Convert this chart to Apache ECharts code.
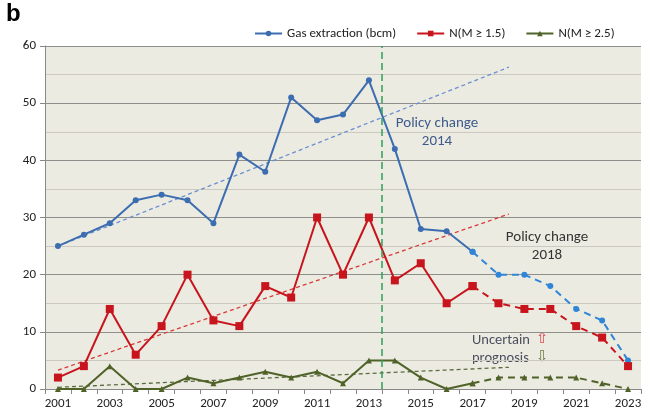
<!DOCTYPE html>
<html>
<head>
<meta charset="utf-8">
<script src="https://cdn.jsdelivr.net/npm/echarts@6/dist/echarts.min.js"></script>
<style>
  html, body { margin: 0; padding: 0; background: #fff; }
  #main { width: 648px; height: 415px; }
</style>
</head>
<body>
<div id="main"></div>
<script>
// 年份
const years = ['2001','2002','2003','2004','2005','2006','2007','2008','2009','2010','2011','2012',
  '2013','2014','2015','2016','2017','2018','2019','2020','2021','2022','2023']
// 实测 (到2017) 和预测 (2017以后)
const gasObs = [25, 27, 29, 33, 34, 33, 29, 41, 38, 51, 47, 48, 54, 42, 28, 27.6, 24, null, null, null, null, null, null]
const gasPred = [null, null, null, null, null, null, null, null, null, null, null, null, null, null, null, null, 24, 20, 20, 18, 14, 12, 5]
const n15Obs = [2, 4, 14, 6, 11, 20, 12, 11, 18, 16, 30, 20, 30, 19, 22, 15, 18, null, null, null, null, null, null]
const n15Pred = [null, null, null, null, null, null, null, null, null, null, null, null, null, null, null, null, 18, 15, 14, 14, 11, 9, 4]
const n25Obs = [0, 0, 4, 0, 0, 2, 1, 2, 3, 2, 3, 1, 5, 5, 2, 0, 1, null, null, null, null, null, null]
const n25Pred = [null, null, null, null, null, null, null, null, null, null, null, null, null, null, null, null, 1, 2, 2, 2, 2, 1, 0]
// 趋势线 [年, 值]
const gasTrend = [[2001, 25], [2018.4, 56.3]]
const n15Trend = [[2001, 3.3], [2018.4, 30.6]]
const n25Trend = [[2001, 0.3], [2018.4, 3.8]]
const policyYear = 2013.5

const blue = '#3c6db0'
const blueDash = '#2f86d8'
const red = '#c8141c'
const green = '#4f6228'

const myChart = echarts.init(document.querySelector('#main'))

const font = "Calibri, Carlito, Lato, 'Open Sans', sans-serif"

const option = {
  animation: false,
  textStyle: { fontFamily: font },
  grid: {
    left: 45,
    right: 7,
    top: 46,
    bottom: 26,
    show: true,
    backgroundColor: '#ecebe1',
    borderWidth: 0
  },
  legend: {
    top: 22,
    left: 249,
    itemWidth: 27,
    itemHeight: 7,
    itemGap: 20,
    textStyle: { fontSize: 13, color: '#222', fontFamily: font },
    data: ['Gas extraction (bcm)', 'N(M ≥ 1.5)', 'N(M ≥ 2.5)']
  },
  xAxis: [
    {
      type: 'category',
      data: years,
      boundaryGap: true,
      axisLine: { lineStyle: { color: '#888', width: 1 } },
      axisTick: { show: true, interval: 0, length: 5, lineStyle: { color: '#888' } },
      axisLabel: { interval: 1, color: '#222', fontSize: 13, margin: 8 },
      splitLine: { show: false }
    },
    {
      type: 'value',
      min: 2000.5,
      max: 2023.5,
      show: false
    }
  ],
  yAxis: {
    type: 'value',
    min: 0,
    max: 60,
    interval: 10,
    axisLine: { show: true, lineStyle: { color: '#888' } },
    axisTick: { show: true, length: 5, lineStyle: { color: '#888' } },
    axisLabel: { color: '#222', fontSize: 13, margin: 9 },
    splitLine: { lineStyle: { color: '#8e8e8a', width: 1.2 } },
    minorTick: { show: false, splitNumber: 2 },
    minorSplitLine: { show: true, lineStyle: { color: '#cbc9c0', width: 1.2 } }
  },
  graphic: [
    { type: 'text', left: 6, top: 2, style: { text: 'b', font: 'bold 24px Arial, sans-serif', fill: '#000' } },
    { type: 'text', x: 437, y: 132, style: { text: 'Policy change\n2014', align: 'center', verticalAlign: 'middle',
      font: '15px ' + font, fill: '#3e5a8c', lineHeight: 18 } },
    { type: 'text', x: 547, y: 246, style: { text: 'Policy change\n2018', align: 'center', verticalAlign: 'middle',
      font: '15px ' + font, fill: '#333', lineHeight: 18 } },
    { type: 'text', x: 472, y: 340, style: { text: 'Uncertain', verticalAlign: 'middle', font: '14.5px ' + font, fill: '#4a4e5e' } },
    { type: 'text', x: 536, y: 339, style: { text: '⇧', verticalAlign: 'middle', font: '15px DejaVu Sans', fill: '#e0474c' } },
    { type: 'text', x: 472, y: 358, style: { text: 'prognosis', verticalAlign: 'middle', font: '14.5px ' + font, fill: '#4a4e5e' } },
    { type: 'text', x: 536, y: 357, style: { text: '⇩', verticalAlign: 'middle', font: '15px DejaVu Sans', fill: '#6b7a40' } }
  ],
  series: [
    {
      name: 'Gas trend',
      type: 'line',
      xAxisIndex: 1,
      data: gasTrend,
      symbol: 'none',
      lineStyle: { color: '#6a8fd2', width: 1.3, type: [4, 3] },
      silent: true,
      markLine: {
        silent: true,
        symbol: 'none',
        label: { show: false },
        lineStyle: { color: '#2ea05a', width: 1.5, type: [7, 4] },
        data: [{ xAxis: policyYear }]
      }
    },
    {
      name: 'N15 trend',
      type: 'line',
      xAxisIndex: 1,
      data: n15Trend,
      symbol: 'none',
      lineStyle: { color: '#d83a3a', width: 1.3, type: [4, 3] },
      silent: true
    },
    {
      name: 'N25 trend',
      type: 'line',
      xAxisIndex: 1,
      data: n25Trend,
      symbol: 'none',
      lineStyle: { color: '#5a6b40', width: 1.3, type: [4, 3] },
      silent: true
    },
    {
      name: 'Gas extraction (bcm)',
      type: 'line',
      data: gasObs,
      symbol: 'circle',
      symbolSize: 6,
      itemStyle: { color: blue },
      lineStyle: { color: blue, width: 2 }
    },
    {
      name: 'Gas extraction (bcm)',
      type: 'line',
      data: gasPred,
      symbol: 'circle',
      symbolSize: 6,
      itemStyle: { color: blueDash },
      lineStyle: { color: blueDash, width: 2, type: [7, 5] }
    },
    {
      name: 'N(M ≥ 1.5)',
      type: 'line',
      data: n15Obs,
      symbol: 'rect',
      symbolSize: 8,
      itemStyle: { color: red },
      lineStyle: { color: red, width: 2 }
    },
    {
      name: 'N(M ≥ 1.5)',
      type: 'line',
      data: n15Pred,
      symbol: 'rect',
      symbolSize: 8,
      itemStyle: { color: red },
      lineStyle: { color: red, width: 2, type: [7, 5] }
    },
    {
      name: 'N(M ≥ 2.5)',
      type: 'line',
      data: n25Obs,
      symbol: 'triangle',
      symbolSize: 6,
      itemStyle: { color: green },
      lineStyle: { color: green, width: 2 }
    },
    {
      name: 'N(M ≥ 2.5)',
      type: 'line',
      data: n25Pred,
      symbol: 'triangle',
      symbolSize: 6,
      itemStyle: { color: green },
      lineStyle: { color: green, width: 2, type: [7, 5] }
    }
  ]
}

myChart.setOption(option)
</script>
</body>
</html>
